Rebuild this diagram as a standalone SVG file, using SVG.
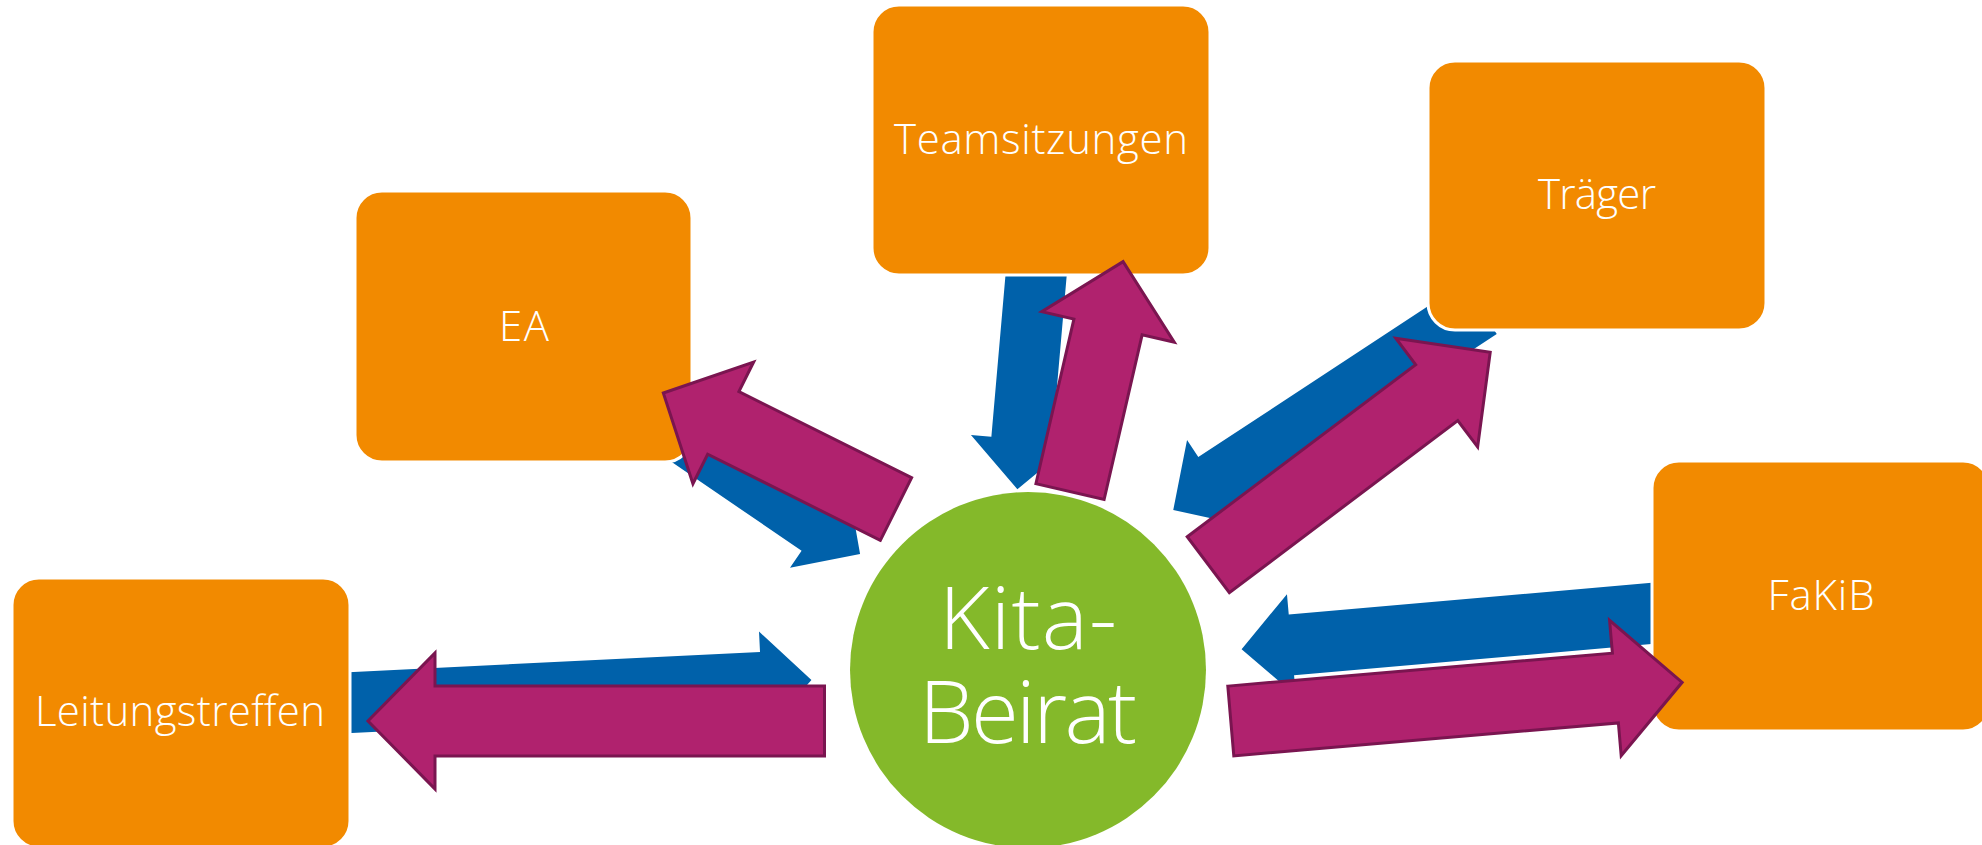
<svg xmlns="http://www.w3.org/2000/svg" width="1982" height="845" viewBox="0 0 1982 845">
<style>
.box{fill:#F28A00;stroke:#FFFFFF;stroke-width:3}
.lbl{fill:#FFFFFF;font-family:'Open Sans',Lato,sans-serif;font-weight:300;font-size:42px;text-anchor:middle}
.big{fill:#FFFFFF;font-family:'Open Sans',Lato,sans-serif;font-weight:300;font-size:87px;text-anchor:middle}
.blue{fill:#0061AA}
.mag{fill:#B0226E;stroke:#7A1550;stroke-width:3;stroke-linejoin:miter}
</style>
<rect width="1982" height="845" fill="#FFFFFF"/>
<g id="connectors-blue">
<polygon class="blue" transform="translate(340,703.1) rotate(-2.8)" points="0,-30.5 422,-30.5 422,-51 472,0 422,51 422,30.5 0,30.5"/>
<polygon class="blue" transform="translate(670.3,424) rotate(34.4)" points="0,-30.5 180,-30.5 180,-51 230,0 180,51 180,30.5 0,30.5"/>
<polygon class="blue" transform="translate(1037,265) rotate(95)" points="0,-30.5 175,-30.5 175,-51 225,0 175,51 175,30.5 0,30.5"/>
<polygon class="blue" transform="translate(1480,308.5) rotate(146.7)" points="0,-30.5 317,-30.5 317,-51 367,0 317,51 317,30.5 0,30.5"/>
<polygon class="blue" transform="translate(1660,612.7) rotate(175)" points="0,-30.5 370,-30.5 370,-51 420,0 370,51 370,30.5 0,30.5"/>
</g>
<g id="node-ea"><rect class="box" x="355" y="191" width="337" height="271" rx="27"/><text class="lbl" x="524" y="341" textLength="50">EA</text></g>
<g id="node-teamsitzungen"><rect class="box" x="872" y="5" width="338" height="270" rx="27"/><text class="lbl" x="1041" y="154" textLength="294">Teamsitzungen</text></g>
<g id="node-traeger"><rect class="box" x="1428" y="61" width="338" height="269" rx="27"/><text class="lbl" x="1597" y="209" textLength="118">Träger</text></g>
<g id="node-fakib"><rect class="box" x="1652" y="461" width="338" height="270" rx="27"/><text class="lbl" x="1821" y="610" textLength="107">FaKiB</text></g>
<g id="node-leitungstreffen"><rect class="box" x="12" y="578" width="338" height="270" rx="27"/><text class="lbl" x="180" y="726" textLength="290">Leitungstreffen</text></g>
<g id="node-kita-beirat"><circle cx="1028" cy="670" r="178" fill="#84B92A"/><text class="big" x="1028" y="649" textLength="178">Kita-</text><text class="big" x="1028" y="743" textLength="218">Beirat</text></g>
<g id="connectors-magenta">
<polygon class="mag" transform="translate(824.5,721) rotate(180)" points="0,-35 389.5,-35 389.5,-68 456.5,0 389.5,68 389.5,35 0,35"/>
<polygon class="mag" transform="translate(896,509) rotate(-153.5)" points="0,-35 193,-35 193,-68 260,0 193,68 193,35 0,35"/>
<polygon class="mag" transform="translate(1070,491.6) rotate(-77)" points="0,-35 169,-35 169,-68 236,0 169,68 169,35 0,35"/>
<polygon class="mag" transform="translate(1208.3,564.7) rotate(-37)" points="0,-35 286,-35 286,-68 353,0 286,68 286,35 0,35"/>
<polygon class="mag" transform="translate(1230.8,721) rotate(-4.9)" points="0,-35 386,-35 386,-68 453,0 386,68 386,35 0,35"/>
</g>
</svg>
